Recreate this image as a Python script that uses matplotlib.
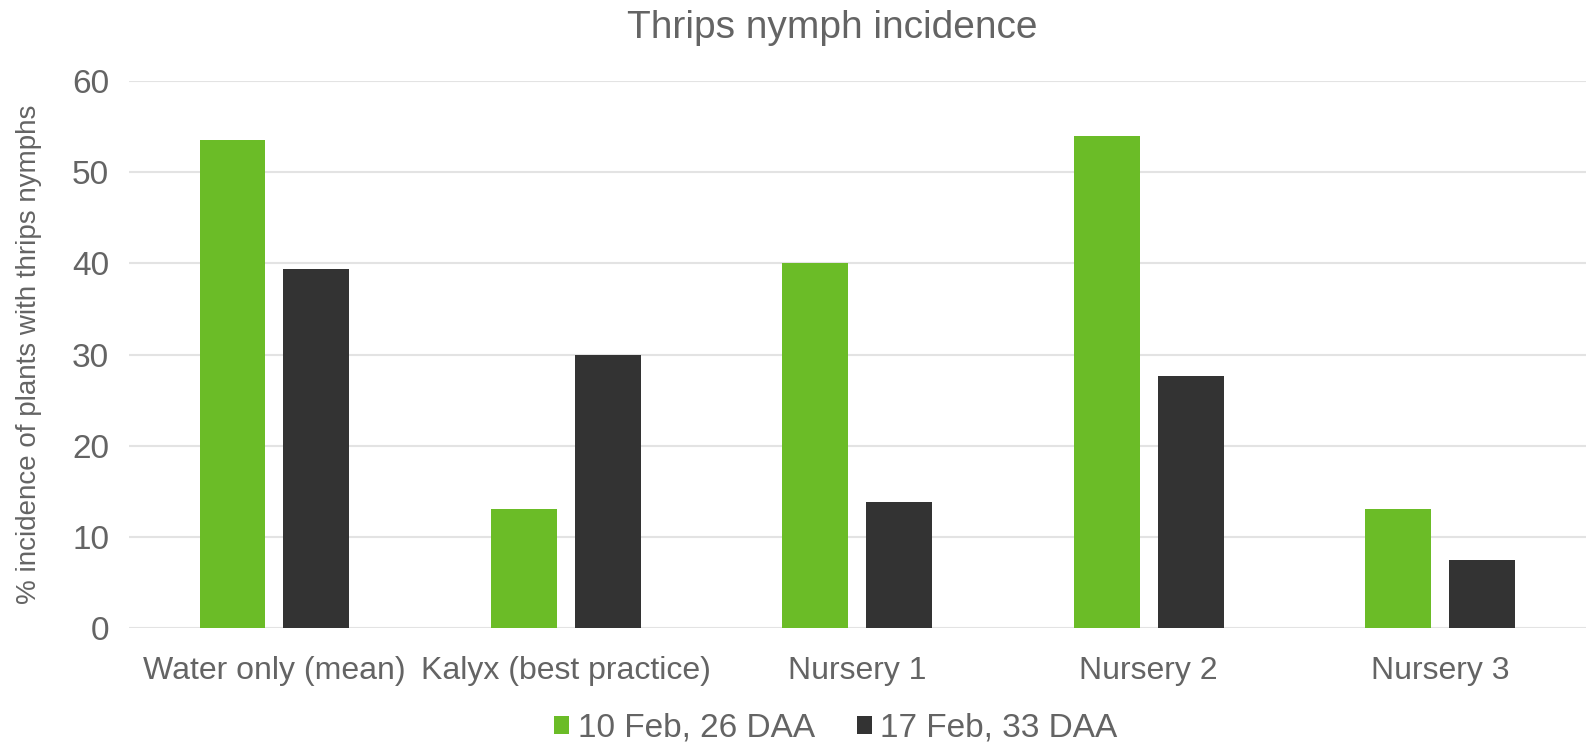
import numpy as np
import matplotlib
matplotlib.use("Agg")
import matplotlib.pyplot as plt

categories = ["Water only (mean)", "Kalyx (best practice)", "Nursery 1", "Nursery 2", "Nursery 3"]
series_names = ["10 Feb, 26 DAA", "17 Feb, 33 DAA"]
feb10 = [53.5, 13.0, 40.0, 54.0, 13.0]
feb17 = [39.4, 30.0, 13.8, 27.6, 7.5]
colors = ["#6BBC27", "#333333"]

plt.rcParams["font.family"] = ["Liberation Sans", "DejaVu Sans"]
text_color = "#646464"

fig = plt.figure(figsize=(15.89, 7.44), dpi=100)
ax = fig.add_axes([0.081, 0.156, 0.917, 0.735])

x = np.arange(len(categories))
w = 0.226
off = 0.144
ax.bar(x - off, feb10, w, color=colors[0], label=series_names[0], zorder=3)
ax.bar(x + off, feb17, w, color=colors[1], label=series_names[1], zorder=3)

ax.set_xlim(-0.5, len(categories) - 0.5)
ax.set_ylim(0, 60)
ax.set_yticks(range(0, 61, 10))
ax.set_xticks(x)
ax.set_xticklabels(categories)
ax.yaxis.grid(True, color="#E3E3E3", linewidth=1.5, zorder=0)
ax.set_axisbelow(True)
for s in ["top", "right", "left", "bottom"]:
    ax.spines[s].set_visible(False)
ax.tick_params(axis="both", length=0, labelcolor=text_color)
ax.tick_params(axis="x", labelsize=23, pad=20)
ax.tick_params(axis="y", labelsize=24, pad=14)

ax.set_ylabel("% incidence of plants with thrips nymphs", fontsize=20, color=text_color, labelpad=22)
fig.text(0.524, 0.962, "Thrips nymph incidence", fontsize=28, color=text_color,
         ha="center", va="center")

fig.legend(loc="lower center", ncol=2, frameon=False, fontsize=24,
           handlelength=0.45, handleheight=0.45, handletextpad=0.25, columnspacing=1.25,
           labelcolor=text_color, bbox_to_anchor=(0.526, -0.04))

fig.savefig("out.png", dpi=100)
